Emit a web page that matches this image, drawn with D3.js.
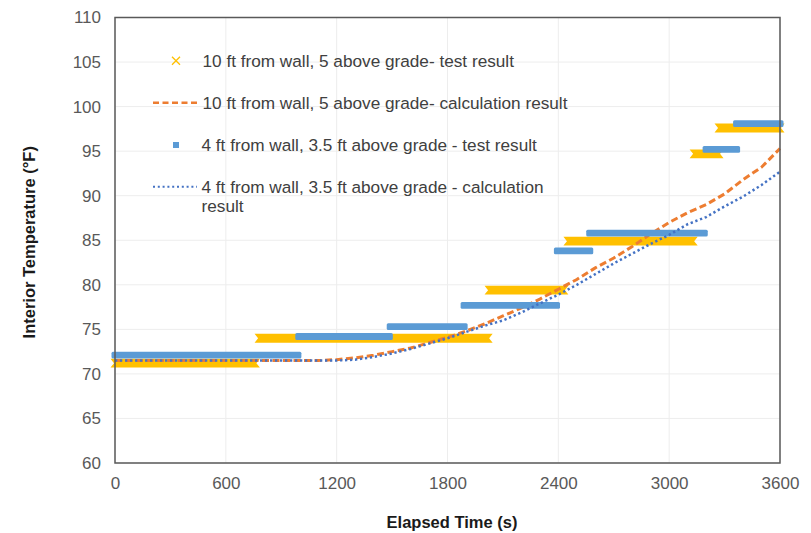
<!DOCTYPE html>
<html>
<head>
<meta charset="utf-8">
<script src="https://cdn.jsdelivr.net/npm/d3@7"></script>
<style>
  html, body { margin: 0; padding: 0; background: #fff; }
  svg { display: block; font-family: "Liberation Sans", Arial, sans-serif; }
</style>
</head>
<body>
<svg id="chart" width="811" height="533"></svg>
<script>
// ---------- data ----------
const timeTicks = [0, 600, 1200, 1800, 2400, 3000, 3600];
const tempTicks = [60, 65, 70, 75, 80, 85, 90, 95, 100, 105, 110];

// calculation results (time in s, temperature in °F)
const calcTime = [0, 200, 400, 600, 800, 1000, 1100, 1200, 1300, 1400, 1500, 1600, 1700, 1800, 1900, 2000,
  2100, 2200, 2300, 2400, 2500, 2600, 2700, 2800, 2900, 3000, 3100, 3200, 3300, 3400, 3500, 3600];
const calc10ft = [71.5, 71.5, 71.5, 71.5, 71.5, 71.5, 71.5, 71.6, 71.8, 72.1, 72.5, 72.9, 73.5, 74.1, 74.8, 75.6,
  76.5, 77.4, 78.4, 79.5, 80.6, 81.9, 83.0, 84.3, 85.7, 87.0, 88.1, 89.0, 90.2, 91.8, 93.2, 95.3];
const calc4ft = [71.5, 71.5, 71.5, 71.5, 71.5, 71.5, 71.5, 71.5, 71.6, 71.9, 72.3, 72.8, 73.4, 74.0, 74.7, 75.4,
  76.0, 76.9, 77.9, 78.9, 80.0, 81.2, 82.4, 83.5, 84.6, 85.6, 86.8, 87.6, 88.8, 89.9, 91.2, 92.7];

// test results: runs of constant reading [start s, end s, °F]
const test10ftStart = [0, 780, 2025, 2452, 3135, 3270];
const test10ftEnd   = [760, 2020, 2430, 3130, 3270, 3600];
const test10ftTemp  = [71.2, 74.0, 79.4, 84.9, 94.7, 97.6];

const test4ftStart = [0, 995, 1490, 1890, 2395, 2570, 3200, 3365];
const test4ftEnd   = [990, 1485, 1890, 2390, 2570, 3190, 3365, 3600];
const test4ftTemp  = [72.1, 74.2, 75.3, 77.7, 83.8, 85.8, 95.2, 98.1];

const legendLabels = [
  "10 ft from wall, 5 above grade- test result",
  "10 ft from wall, 5 above grade- calculation result",
  "4 ft from wall, 3.5 ft above grade - test result",
  ["4 ft from wall, 3.5 ft above grade - calculation", "result"]
];

(function () {
// ---------- layout ----------
const svg = d3.select("#chart");
const pL = 115, pR = 780, pT = 17.5, pB = 463;
const x = d3.scaleLinear().domain([0, 3600]).range([pL, pR]);
const y = d3.scaleLinear().domain([60, 110]).range([pB, pT]);

const YELLOW = "#FFC000", BLUE = "#5B9BD5", ORANGE = "#ED7D31", DBLUE = "#4472C4";

// gridlines
const grid = svg.append("g");
grid.selectAll("line.h").data(tempTicks).join("line").attr("class", "h")
  .attr("x1", pL).attr("x2", pR)
  .attr("y1", d => y(d)).attr("y2", d => y(d))
  .attr("stroke", "#EDEDED").attr("stroke-width", 1);
grid.selectAll("line.v").data(timeTicks).join("line").attr("class", "v")
  .attr("y1", pT).attr("y2", pB)
  .attr("x1", d => x(d)).attr("x2", d => x(d))
  .attr("stroke", "#EDEDED").attr("stroke-width", 1);

// axes labels (tick text)
const yAxis = svg.append("g").attr("transform", `translate(${pL},0)`)
  .call(d3.axisLeft(y).tickValues(tempTicks).tickSize(0).tickPadding(14).tickFormat(d3.format("d")));
const xAxis = svg.append("g").attr("transform", `translate(0,${pB})`)
  .call(d3.axisBottom(x).tickValues(timeTicks).tickSize(0).tickPadding(14).tickFormat(d3.format("d")));
[yAxis, xAxis].forEach(a => {
  a.select(".domain").remove();
  a.selectAll("text").attr("fill", "#595959").style("font-size", "17px")
    .style("font-family", "'Liberation Sans', Arial, sans-serif");
});

// test result bands (yellow x markers)
const bandY = (s, e, v) => {
  const x0 = x(s), x1 = x(e), yc = y(v), h = 4.4, o = 4.5;
  return `M${x0 - o},${yc - h} L${x1 + o},${yc - h} L${x1 + 1},${yc} L${x1 + o},${yc + h} ` +
         `L${x0 - o},${yc + h} L${x0 - 1},${yc} Z`;
};
svg.append("g").selectAll("path").data(test10ftTemp).join("path")
  .attr("d", (v, i) => bandY(test10ftStart[i], test10ftEnd[i], v))
  .attr("fill", YELLOW);

// calculation 10 ft (orange dashed)
const line = d3.line().x(d => x(d[0])).y(d => y(d[1]));
svg.append("path")
  .datum(calcTime.map((t, i) => [t, calc10ft[i]]))
  .attr("d", line).attr("fill", "none")
  .attr("stroke", ORANGE).attr("stroke-width", 3)
  .attr("stroke-dasharray", "7,3.5");

// test 4 ft (blue squares)
svg.append("g").selectAll("rect").data(test4ftTemp).join("rect")
  .attr("x", (v, i) => x(test4ftStart[i]) - 3.5)
  .attr("width", (v, i) => x(test4ftEnd[i]) - x(test4ftStart[i]) + 7)
  .attr("y", v => y(v) - 3.4).attr("height", 6.8)
  .attr("rx", 1.5)
  .attr("fill", BLUE);

// calculation 4 ft (blue dotted)
svg.append("path")
  .datum(calcTime.map((t, i) => [t, calc4ft[i]]))
  .attr("d", line).attr("fill", "none")
  .attr("stroke", DBLUE).attr("stroke-width", 2.5)
  .attr("stroke-dasharray", "2.3,2.7");

// plot border
svg.append("rect")
  .attr("x", pL).attr("y", pT)
  .attr("width", pR - pL).attr("height", pB - pT)
  .attr("fill", "none").attr("stroke", "#595959").attr("stroke-width", 1.5);

// axis titles
svg.append("text")
  .attr("x", 452).attr("y", 522).attr("dy", "0.35em")
  .attr("text-anchor", "middle").style("font-size", "16.5px").style("font-weight", "bold")
  .attr("fill", "#1a1a1a").text("Elapsed Time (s)");
svg.append("text")
  .attr("transform", `translate(29,${(pT + pB) / 2 + 2}) rotate(-90)`)
  .attr("dy", "0.35em")
  .attr("text-anchor", "middle").style("font-size", "16.5px").style("font-weight", "bold")
  .attr("fill", "#1a1a1a").text("Interior Temperature (°F)");

// legend
const lg = svg.append("g");
const legY = [60.7, 102.7, 145, 186.7];
lg.append("path")
  .attr("d", `M${176 - 4},${legY[0] - 4} L${176 + 4},${legY[0] + 4} M${176 - 4},${legY[0] + 4} L${176 + 4},${legY[0] - 4}`)
  .attr("stroke", YELLOW).attr("stroke-width", 1.3).attr("fill", "none");
lg.append("line").attr("x1", 153).attr("x2", 198).attr("y1", legY[1]).attr("y2", legY[1])
  .attr("stroke", ORANGE).attr("stroke-width", 2.5).attr("stroke-dasharray", "6,3.5");
lg.append("rect").attr("x", 176 - 3).attr("y", legY[2] - 3).attr("width", 6).attr("height", 6)
  .attr("fill", BLUE);
lg.append("line").attr("x1", 153).attr("x2", 197).attr("y1", legY[3]).attr("y2", legY[3])
  .attr("stroke", DBLUE).attr("stroke-width", 2).attr("stroke-dasharray", "2,2.8");

const textX = [202.5, 202.5, 201.5, 201.5];
legendLabels.forEach((lab, i) => {
  const t = lg.append("text").attr("x", textX[i]).attr("y", legY[i])
    .style("font-size", "17.2px").attr("fill", "#404040");
  if (Array.isArray(lab)) {
    lab.forEach((s, j) => t.append("tspan").attr("x", textX[i]).attr("dy", j === 0 ? "0.35em" : "19.5px").text(s));
  } else {
    t.attr("dy", "0.35em").text(lab);
  }
});
})();
</script>
</body>
</html>
